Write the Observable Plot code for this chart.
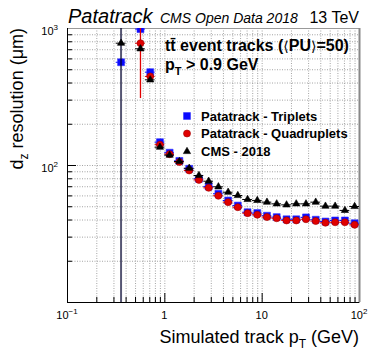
<!DOCTYPE html>
<html><head><meta charset="utf-8">
<script src="https://cdn.jsdelivr.net/npm/d3@7"></script>
<script src="https://cdn.jsdelivr.net/npm/@observablehq/plot@0.6"></script>
<style>
html,body{margin:0;padding:0;background:#fff;}
#chart{width:374px;height:359px;}
</style></head><body><div id="chart"></div>
<script>
// ---- data ----
const pT = [0.355, 0.562, 0.708, 0.891, 1.12, 1.41, 1.78, 2.24, 2.82, 3.55, 4.47, 5.62, 7.08, 8.91, 11.2, 14.1, 17.8, 22.4, 28.2, 35.5, 44.7, 56.2, 70.8, 89.1];
const triplets    = [567, 990, 480, 148, 124, 108, 94.6, 80, 70.3, 62.2, 55.5, 51, 45.6, 45, 43, 42, 40.5, 40.5, 41.8, 40.2, 39, 39.7, 39.7, 37.9];
const quadruplets = [null, 781, 447, 142, 121, 106, 92, 78.5, 68.7, 60.1, 54.0, 49.6, 44.9, 43.7, 42.0, 41.2, 39.7, 39.7, 40.5, 39.3, 38.2, 38.5, 38.5, 36.9];
const cms2018     = [781, 711, 422, 136, 119, 107, 95.5, 84.5, 76.8, 69.9, 63.8, 60.4, 56.5, 55.6, 54.0, 52.5, 51.6, 52.5, 52.5, 54, 50.5, 50.5, 47, 50.2];
// visible vertical error bars (low / high), first bins only
const tripletsLo = [10, 880, null], tripletsHi = [1000, 1000, null];
const quadLo = [null, 308, null], quadHi = [null, 1000, null];
const cmsLo = [10, 680, null], cmsHi = [1000, 745, null];
const binHalfWidthLog = 0.05; // half bin width in decades

const seriesNames = ["Patatrack - Triplets", "Patatrack - Quadruplets", "CMS - 2018"];
const xTickValues = [0.1, 1, 10, 100];
const xTickBase = ["10", "1", "10", "10"];
const xTickSup = ["\u22121", "", "", "2"];
const yTickValues = [100, 1000];
const yTickBase = ["10", "10"];
const yTickSup = ["2", "3"];
const xMajor = [0.1, 1, 10, 100];
const xMinor = [0.2,0.3,0.4,0.5,0.6,0.7,0.8,0.9,2,3,4,5,6,7,8,9,20,30,40,50,60,70,80,90];
const yMajor = [10, 100, 1000];
const yMinor = [20,30,40,50,60,70,80,90,200,300,400,500,600,700,800,900];

// ---- layout ----
const W = 374, H = 359, mL = 67, mR = 15, mT = 28, mB = 57;
const fw = W - mL - mR, fh = H - mT - mB;
const FONT = "'Liberation Sans', Arial, Helvetica, sans-serif";

const styles = [
  {color: "#0000ff", fill: "#0a0aff", stroke: "#3030ff", symbol: "square", r: 3.9, errW: 1.2, errOp: 0.4},
  {color: "#e00000", fill: "#e00000", stroke: "#a00000", symbol: "circle", r: 3.5, errW: 1.3, errOp: 1},
  {color: "#000000", fill: "#000000", stroke: "#000000", symbol: "triangle", r: 2.7, errW: 2, errOp: 0.55}
];
const seriesData = [
  {values: triplets, lo: tripletsLo, hi: tripletsHi},
  {values: quadruplets, lo: quadLo, hi: quadHi},
  {values: cms2018, lo: cmsLo, hi: cmsHi}
];
const f = Math.pow(10, binHalfWidthLog);
const seriesMarks = [];
seriesData.forEach((s, k) => {
  const st = styles[k];
  const rows = [];
  s.values.forEach((v, i) => { if (v != null) rows.push({x: pT[i], y: v, x1: pT[i] / f, x2: pT[i] * f}); });
  const errs = [];
  s.lo.forEach((lo, i) => { if (lo != null) errs.push({x: pT[i], y1: lo, y2: s.hi[i]}); });
  seriesMarks.push(
    Plot.ruleY(rows, {y: "y", x1: "x1", x2: "x2", stroke: st.color, strokeWidth: 1, clip: true}),
    Plot.ruleX(errs, {x: "x", y1: "y1", y2: "y2", stroke: st.color, strokeWidth: st.errW, strokeOpacity: st.errOp, clip: true}),
    Plot.dot(rows, {x: "x", y: "y", symbol: st.symbol, r: st.r, fill: st.fill, stroke: st.stroke, strokeWidth: 0.6, clip: true})
  );
});

const plot = Plot.plot({
  width: W, height: H,
  marginLeft: mL, marginRight: mR, marginTop: mT, marginBottom: mB,
  style: {background: "#fff", fontFamily: FONT},
  x: {type: "log", domain: [0.1, 100], axis: null},
  y: {type: "log", domain: [10, 1000], axis: null},
  marks: [
    Plot.ruleX(xMinor.concat([1, 10]), {x: d => d, stroke: "#9a9a9a", strokeWidth: 0.9, strokeDasharray: "1,1.5"}),
    Plot.ruleY(yMinor.concat([100]), {y: d => d, stroke: "#9a9a9a", strokeWidth: 0.9, strokeDasharray: "1,1.5"}),
    Plot.tickX(xMajor, {x: d => d, insetTop: fh - 9, stroke: "#000"}),
    Plot.tickX(xMinor, {x: d => d, insetTop: fh - 5, stroke: "#000"}),
    Plot.tickY(yMajor, {y: d => d, insetRight: fw - 9, stroke: "#000"}),
    Plot.tickY(yMinor, {y: d => d, insetRight: fw - 5, stroke: "#000"}),
    Plot.frame({stroke: "#999"}),
    Plot.ruleX([100], {stroke: "#888", strokeWidth: 2}),
    Plot.ruleX([0.1], {stroke: "#000"}),
    Plot.ruleY([10], {stroke: "#000"}),
    ...seriesMarks
  ]
});
document.getElementById("chart").appendChild(plot);

const sx = plot.scale("x"), sy = plot.scale("y");
const svg = d3.select(plot);
const g = svg.append("g").attr("font-family", FONT).attr("fill", "#000").attr("text-anchor", "start");

// tick labels
xTickValues.forEach((v, i) => {
  const t = g.append("text").attr("x", sx.apply(v)).attr("y", H - mB + 17)
    .attr("text-anchor", "middle").attr("font-size", 11).text(xTickBase[i]);
  if (xTickSup[i]) t.append("tspan").attr("dy", -5).attr("font-size", 8).text(xTickSup[i]);
});
yTickValues.forEach((v, i) => {
  const t = g.append("text").attr("x", mL - 9).attr("y", sy.apply(v) + 7)
    .attr("text-anchor", "end").attr("font-size", 11).text(yTickBase[i]);
  if (yTickSup[i]) t.append("tspan").attr("dy", -5).attr("font-size", 8).text(yTickSup[i]);
});

// axis titles
const xt = g.append("text").attr("x", W - mR).attr("y", H - 16).attr("text-anchor", "end").attr("font-size", 18);
xt.append("tspan").text("Simulated track p");
xt.append("tspan").attr("dy", 5).attr("font-size", 12).text("T");
xt.append("tspan").attr("dy", -5).text(" (GeV)");
const yt = g.append("text").attr("transform", `translate(23,${mT}) rotate(-90)`).attr("text-anchor", "end").attr("font-size", 18);
yt.append("tspan").text("d");
yt.append("tspan").attr("dy", 5).attr("font-size", 12).text("z");
yt.append("tspan").attr("dy", -5).text(" resolution (\u03bcm)");

// header
g.append("text").attr("x", 68).attr("y", 23).attr("font-size", 20).attr("font-style", "italic").text("Patatrack");
g.append("text").attr("x", 160).attr("y", 23).attr("font-size", 14).attr("font-style", "italic").text("CMS Open Data 2018");
g.append("text").attr("x", W - mR).attr("y", 23).attr("text-anchor", "end").attr("font-size", 16).text("13 TeV");

// annotation
const l1 = g.append("text").attr("x", 165).attr("y", 51).attr("font-size", 16).attr("font-weight", "bold");
l1.append("tspan").text("tt\u0304 event tracks (");
l1.append("tspan").attr("font-family", "'DejaVu Sans'").attr("font-weight", "normal").attr("font-size", 14).text("\u27e8");
l1.append("tspan").text("PU");
l1.append("tspan").attr("font-family", "'DejaVu Sans'").attr("font-weight", "normal").attr("font-size", 14).text("\u27e9");
l1.append("tspan").text("=50)");
const l2 = g.append("text").attr("x", 165).attr("y", 70).attr("font-size", 16).attr("font-weight", "bold");
l2.append("tspan").text("p");
l2.append("tspan").attr("dy", 5).attr("font-size", 11).text("T");
l2.append("tspan").attr("dy", -5).text(" > 0.9 GeV");

// legend
const legY = [116, 133.5, 151.5];
seriesNames.forEach((name, k) => {
  const st = styles[k];
  const area = Math.PI * st.r * st.r;
  const sym = k === 0 ? d3.symbolSquare : k === 1 ? d3.symbolCircle : d3.symbolTriangle;
  g.append("path").attr("d", d3.symbol(sym, area)()).attr("transform", `translate(187,${legY[k]})`)
    .attr("fill", st.fill).attr("stroke", st.stroke).attr("stroke-width", 0.6);
  g.append("text").attr("x", 201).attr("y", legY[k] + 4.5).attr("font-size", 13).attr("font-weight", "bold").text(name);
});
</script></body></html>
